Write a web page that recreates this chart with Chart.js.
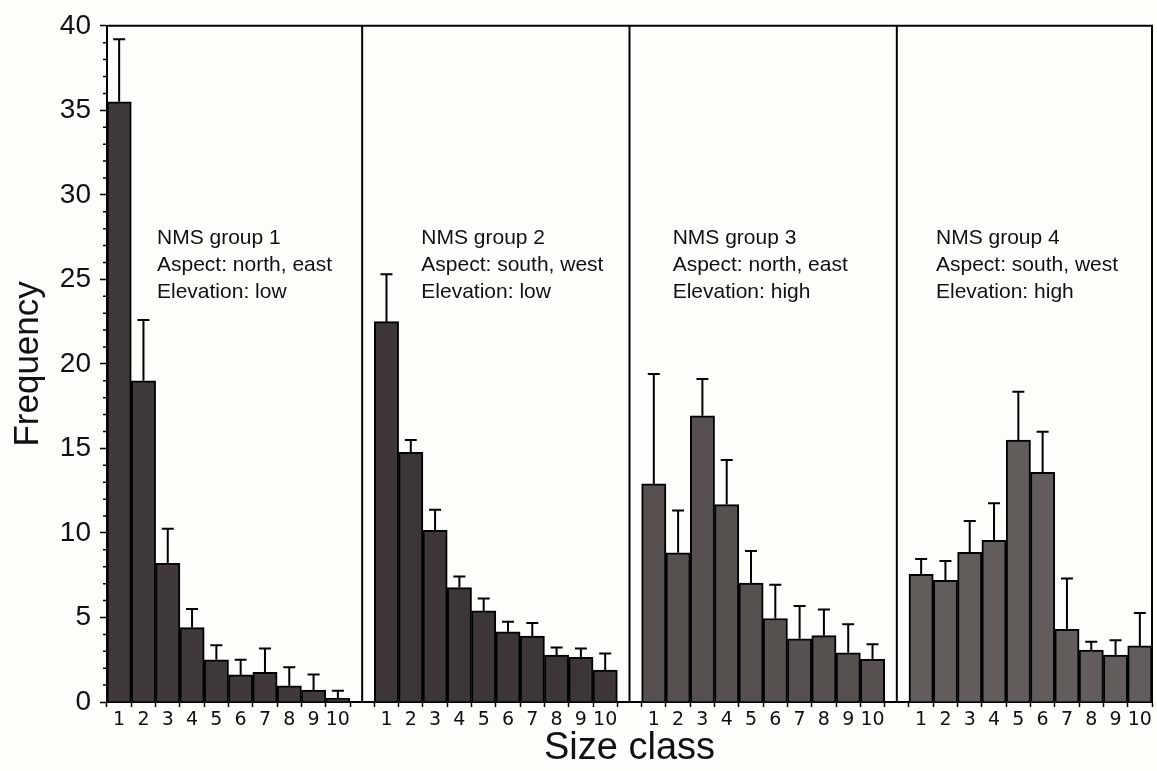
<!DOCTYPE html>
<html>
<head>
<meta charset="utf-8">
<script src="https://cdn.jsdelivr.net/npm/chart.js@4.4.1/dist/chart.umd.min.js"></script>
<style>
    html, body { margin: 0; padding: 0; background: #fdfdf9; }
    #wrap { width: 1157px; height: 771px; }
</style>
</head>
<body>
<div id="wrap"><canvas id="myChart" width="1157" height="771"></canvas></div>
<script>
// size classes shown under each panel
const sizeClasses = ['1', '2', '3', '4', '5', '6', '7', '8', '9', '10'];

// mean frequency per size class, one array per NMS group
const group1Mean = [35.5, 19.0, 8.2, 4.4, 2.5, 1.6, 1.75, 0.96, 0.71, 0.22];
const group2Mean = [22.5, 14.77, 10.15, 6.77, 5.39, 4.15, 3.9, 2.77, 2.64, 1.89];
const group3Mean = [12.9, 8.83, 16.93, 11.68, 7.04, 4.94, 3.74, 3.93, 2.91, 2.52];
const group4Mean = [7.55, 7.2, 8.85, 9.56, 15.5, 13.59, 4.3, 3.07, 2.77, 3.32];

// upper error (added on top of the mean)
const group1Err = [3.7, 3.6, 2.05, 1.1, 0.86, 0.9, 1.42, 1.09, 0.92, 0.45];
const group2Err = [2.8, 0.73, 1.22, 0.66, 0.73, 0.59, 0.78, 0.46, 0.53, 0.98];
const group3Err = [6.5, 2.5, 2.17, 2.64, 1.89, 2.0, 1.94, 1.54, 1.69, 0.9];
const group4Err = [0.91, 1.14, 1.85, 2.2, 2.85, 2.4, 3.0, 0.49, 0.89, 1.95];

const groupNotes = [
    ['NMS group 1', 'Aspect: north, east', 'Elevation: low'],
    ['NMS group 2', 'Aspect: south, west', 'Elevation: low'],
    ['NMS group 3', 'Aspect: north, east', 'Elevation: high'],
    ['NMS group 4', 'Aspect: south, west', 'Elevation: high']
];

const yTicks = [0, 5, 10, 15, 20, 25, 30, 35, 40];

const groupColors = ['#3f3a39', '#3c3736', '#56514f', '#625d5b'];

// one long category axis, an empty slot between the panels
const means = [group1Mean, group2Mean, group3Mean, group4Mean];
const errs = [group1Err, group2Err, group3Err, group4Err];
const labels = [], values = [], errors = [], colors = [], gaps = [];
means.forEach((m, g) => {
    m.forEach((v, i) => {
        labels.push(sizeClasses[i]);
        values.push(v);
        errors.push(errs[g][i]);
        colors.push(groupColors[g]);
    });
    if (g < means.length - 1) {
        gaps.push(labels.length);
        labels.push('');
        values.push(null);
        errors.push(null);
        colors.push('rgba(0,0,0,0)');
    }
});

const framePlugin = {
    id: 'frame',
    afterDatasetsDraw(chart) {
        const {ctx, chartArea: a, scales: {x, y}} = chart;
        ctx.save();
        ctx.strokeStyle = '#000';
        ctx.lineWidth = 2;
        ctx.beginPath();
        ctx.moveTo(a.left, a.top);
        ctx.lineTo(a.right, a.top);
        ctx.lineTo(a.right, a.bottom);
        gaps.forEach(gi => {
            const px = x.getPixelForValue(gi);
            ctx.moveTo(px, a.top);
            ctx.lineTo(px, a.bottom);
        });
        ctx.stroke();

        // minor ticks on the y axis
        ctx.lineWidth = 1.5;
        ctx.beginPath();
        for (let v = 0; v <= 40; v++) {
            if (v % 5 === 0) continue;
            const py = y.getPixelForValue(v);
            ctx.moveTo(a.left - 4, py);
            ctx.lineTo(a.left, py);
        }
        ctx.stroke();

        // error bars
        const meta = chart.getDatasetMeta(0);
        ctx.lineWidth = 2;
        ctx.beginPath();
        values.forEach((v, i) => {
            if (v === null) return;
            const px = meta.data[i].x;
            const y0 = y.getPixelForValue(v);
            const y1 = y.getPixelForValue(v + errors[i]);
            ctx.moveTo(px, y0);
            ctx.lineTo(px, y1);
            ctx.moveTo(px - 6, y1);
            ctx.lineTo(px + 6, y1);
        });
        ctx.stroke();

        // panel notes
        const textOffsets = [50, 47, 31, 27];
        const half = (x.getPixelForValue(1) - x.getPixelForValue(0)) / 2;
        ctx.fillStyle = '#111';
        ctx.font = '21px "Liberation Sans", Arial, sans-serif';
        ctx.textBaseline = 'middle';
        groupNotes.forEach((lines, g) => {
            const left = x.getPixelForValue(g * 11) - half + textOffsets[g];
            lines.forEach((t, k) => {
                ctx.fillText(t, left, 238 + k * 27);
            });
        });
        ctx.restore();
    }
};

const ctx = document.getElementById('myChart').getContext('2d');
new Chart(ctx, {
    type: 'bar',
    data: {
        labels: labels,
        datasets: [{
            data: values,
            backgroundColor: colors,
            borderColor: '#000',
            borderWidth: 2,
            borderSkipped: 'bottom',
            categoryPercentage: 1,
            barPercentage: 1
        }]
    },
    options: {
        responsive: false,
        animation: false,
        events: [],
        layout: { padding: { top: 24, right: 5, left: 0, bottom: 0 } },
        plugins: {
            legend: { display: false },
            tooltip: { enabled: false }
        },
        scales: {
            x: {
                type: 'category',
                afterFit(scale) { scale.height = 69; },
                ticks: {
                    autoSkip: false,
                    maxRotation: 0,
                    minRotation: 0,
                    padding: 2,
                    color: '#111',
                    font: { family: '"DejaVu Sans", Verdana, sans-serif', size: 19 }
                },
                grid: {
                    offset: true,
                    drawOnChartArea: false,
                    drawTicks: true,
                    tickLength: 5,
                    tickColor: '#000',
                    tickWidth: 1.5
                },
                border: { display: true, color: '#000', width: 2 },
                title: {
                    display: true,
                    text: 'Size class',
                    color: '#111',
                    font: { family: '"Liberation Sans", Arial, sans-serif', size: 38 },
                    padding: { top: 0, bottom: 0 }
                }
            },
            y: {
                min: 0,
                max: 40,
                afterFit(scale) { scale.width = 107; },
                afterBuildTicks(scale) { scale.ticks = yTicks.map(v => ({ value: v })); },
                ticks: {
                    padding: 9,
                    color: '#111',
                    font: { family: '"Liberation Sans", Arial, sans-serif', size: 28 }
                },
                grid: {
                    drawOnChartArea: false,
                    drawTicks: true,
                    tickLength: 7,
                    tickColor: '#000',
                    tickWidth: 1.5
                },
                border: { display: true, color: '#000', width: 2 },
                title: {
                    display: true,
                    text: 'Frequency',
                    color: '#111',
                    font: { family: '"Liberation Sans", Arial, sans-serif', size: 35 },
                    padding: { top: 7, bottom: 0 }
                }
            }
        }
    },
    plugins: [framePlugin]
});
</script>
</body>
</html>
